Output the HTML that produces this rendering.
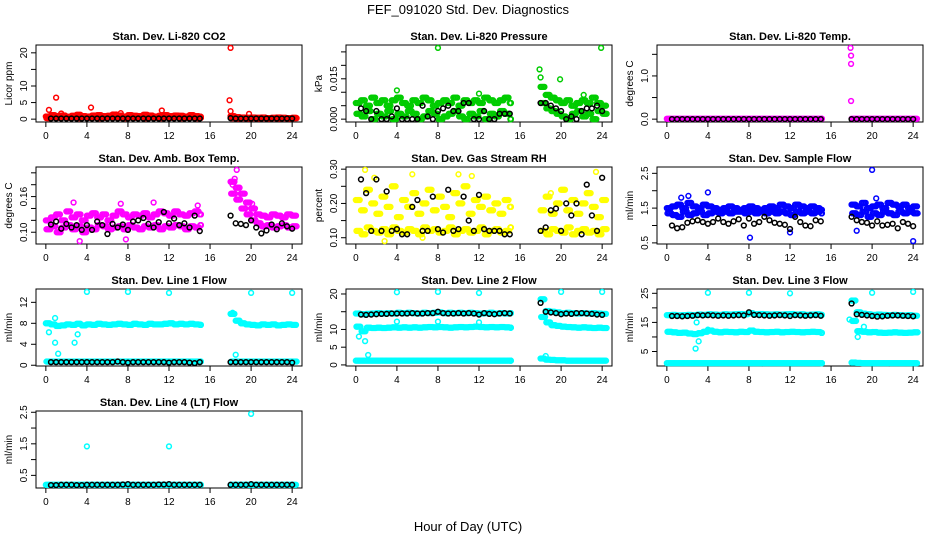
<!DOCTYPE html>
<html><head><meta charset="utf-8">
<style>
body{margin:0;background:#fff;}
svg{display:block;font-family:"Liberation Sans",Arial,sans-serif;}
</style></head>
<body>
<svg id="chart" width="936" height="540" viewBox="0 0 936 540">
<text x="468" y="14" text-anchor="middle" font-size="13">FEF_091020  Std. Dev. Diagnostics</text>
<text x="468" y="531" text-anchor="middle" font-size="13">Hour of Day (UTC)</text>
</svg>
<script>
const TIMES=[0,0.5,1,1.5,2,2.5,3,3.5,4,4.5,5,5.5,6,6.5,7,7.5,8,8.5,9,9.5,10,10.5,11,11.5,12,12.5,13,13.5,14,14.5,15,18,18.5,19,19.5,20,20.5,21,21.5,22,22.5,23,23.5,24];
const TIME_OFFSETS=[0,0.125,0.25,0.375];
const X_TICKS=[0,4,8,12,16,20,24];

// CO2
const CO2_A=[0.8,1.2,0.9,1.1,0.7,1.0,1.3,0.9,0.8,1.1,1.2,0.9,1.0,1.4,1.1,0.8,1.2,1.0,0.9,1.3,1.1,0.8,1.0,1.2,0.9,1.1,1.0,0.8,1.2,0.9,0.7,0.9,0.6,0.5,0.4,0.5,0.4,0.5,0.3,0.4,0.5,0.4,0.3,0.4];
const CO2_B=[0.3,0.5,0.4,0.6,0.4,0.5,0.3,0.6,0.4,0.5,0.3,0.4,0.6,0.5,0.4,0.3,0.5,0.4,0.6,0.3,0.5,0.4,0.3,0.5,0.4,0.6,0.3,0.4,0.5,0.3,0.4,0.3,0.2,0.3,0.2,0.3,0.2,0.3,0.2,0.3,0.2,0.3,0.2,0.3];
const CO2_K=[0.2,0.2,0.2,0.2,0.2,0.2,0.2,0.2,0.2,0.2,0.2,0.2,0.2,0.2,0.2,0.2,0.2,0.2,0.2,0.2,0.2,0.2,0.2,0.2,0.2,0.2,0.2,0.2,0.2,0.2,0.2,0.3,0.2,0.2,0.2,0.2,0.2,0.2,0.2,0.2,0.2,0.2,0.2,0.2];
const CO2_OUT=[[0.3,2.8],[1,6.5],[4.4,3.5],[11.3,2.6],[17.9,5.7],[18,2.4],[18,21.5],[19.8,1.6],[1.5,1.7],[7.3,1.8]];
// Pressure
const PR_A=[.006,.007,.005,.008,.006,.007,.005,.007,.008,.006,.005,.007,.006,.008,.007,.005,.006,.007,.006,.008,.005,.007,.006,.007,.006,.008,.007,.006,.007,.008,.006,.012,.009,.008,.007,.006,.007,.005,.006,.007,.006,.008,.006,.005];
const PR_B=[.002,.001,.003,.000,.002,.001,.003,.000,.002,.001,.003,.002,.000,.001,.003,.002,.000,.001,.002,.003,.001,.000,.002,.001,.003,.000,.002,.001,.003,.002,.000,.006,.004,.003,.002,.001,.000,.002,.003,.001,.002,.000,.003,.002];
const PR_K=[.000,.004,.003,.000,.003,.000,.000,.001,.004,.000,.000,.000,.000,.005,.001,.000,.003,.004,.005,.003,.003,.006,.006,.000,.000,.003,.000,.000,.002,.002,.002,.006,.006,.005,.004,.003,.000,.001,.000,.003,.004,.004,.005,.003];
const PR_OUT=[[8,.0265],[23.9,.0265],[17.9,.0185],[19.9,.0148],[4,.0107],[12,.0095],[18,.0155],[22.2,.009]];
// Li-820 temp
const LT_A=[0.01,0.01,0.01,0.01,0.01,0.01,0.01,0.01,0.01,0.01,0.01,0.01,0.01,0.01,0.01,0.01,0.01,0.01,0.01,0.01,0.01,0.01,0.01,0.01,0.01,0.01,0.01,0.01,0.01,0.01,0.01,0.01,0.01,0.01,0.01,0.01,0.01,0.01,0.01,0.01,0.01,0.01,0.01,0.01];
const LT_K=[0,0,0,0,0,0,0,0,0,0,0,0,0,0,0,0,0,0,0,0,0,0,0,0,0,0,0,0,0,0,0,0,0,0,0,0,0,0,0,0,0,0,0,0];
const LT_OUT=[[17.9,1.65],[17.95,1.47],[17.95,1.28],[17.95,0.42]];
// Amb box temp
const AB_A=[.12,.125,.13,.12,.135,.125,.13,.12,.128,.132,.125,.13,.12,.128,.135,.13,.125,.13,.128,.132,.125,.13,.135,.132,.128,.135,.13,.128,.132,.135,.13,.185,.175,.165,.15,.14,.13,.128,.125,.13,.128,.125,.13,.128];
const AB_B=[.105,.11,.1,.108,.112,.105,.11,.1,.108,.105,.112,.11,.105,.108,.11,.105,.112,.108,.105,.11,.108,.112,.105,.11,.108,.112,.11,.105,.11,.108,.112,.165,.155,.14,.13,.12,.115,.11,.112,.108,.11,.112,.108,.11];
const AB_K=[.108,.113,.118,.106,.114,.108,.112,.104,.112,.104,.118,.112,.097,.114,.108,.113,.104,.118,.12,.124,.114,.108,.117,.134,.115,.123,.112,.115,.108,.128,.102,.128,.115,.114,.112,.12,.108,.098,.103,.113,.105,.115,.11,.106];
const AB_OUT=[[18.6,.205],[18.4,.19],[18.2,.18],[2.7,.15],[7.3,.148],[10.5,.15],[14.8,.145],[3.3,.085],[7.8,.088],[20.1,.148]];
// RH
const RH_A=[.21,.18,.24,.2,.17,.22,.19,.25,.16,.21,.19,.23,.17,.2,.24,.18,.22,.19,.16,.23,.2,.25,.17,.21,.19,.22,.18,.2,.17,.21,.19,.18,.22,.17,.2,.24,.18,.21,.17,.2,.23,.19,.16,.21];
const RH_B=[.12,.11,.13,.12,.115,.125,.11,.13,.12,.115,.125,.12,.11,.13,.12,.125,.115,.12,.13,.11,.12,.125,.115,.12,.13,.11,.12,.125,.115,.12,.13,.12,.11,.125,.12,.115,.13,.11,.12,.125,.115,.12,.11,.125];
const RH_K=[.12,.27,.23,.12,.27,.12,.235,.12,.125,.11,.11,.19,.21,.12,.12,.22,.125,.115,.24,.12,.125,.22,.15,.12,.225,.125,.12,.12,.12,.11,.11,.12,.13,.18,.185,.12,.2,.165,.2,.11,.255,.165,.12,.275];
const RH_OUT=[[0.9,.298],[1.8,.275],[5.5,.285],[10,.285],[11.3,.28],[23.4,.292],[2.8,.09],[6.5,.1],[19,.23]];
// Sample flow
const SF_A=[1.5,1.55,1.6,1.5,1.65,1.55,1.5,1.6,1.55,1.5,1.45,1.5,1.55,1.5,1.45,1.5,1.55,1.5,1.45,1.5,1.55,1.5,1.6,1.55,1.5,1.6,1.55,1.5,1.55,1.5,1.45,1.6,1.55,1.65,1.5,1.55,1.6,1.5,1.65,1.6,1.55,1.6,1.5,1.55];
const SF_B=[1.35,1.3,1.25,1.4,1.3,1.35,1.4,1.3,1.35,1.4,1.35,1.4,1.35,1.4,1.4,1.35,1.4,1.35,1.4,1.35,1.4,1.35,1.4,1.35,1.3,1.4,1.35,1.4,1.35,1.4,1.35,1.35,1.3,1.4,1.25,1.35,1.3,1.4,1.35,1.3,1.4,1.35,1.4,1.35];
const SF_K=[1.05,1.0,0.92,0.95,1.08,1.12,1.15,1.1,1.05,1.1,1.2,1.1,1.05,1.12,1.18,1.0,1.2,1.05,1.1,1.25,1.15,1.08,1.05,1.02,0.9,1.25,1.1,1.0,0.98,1.15,1.12,1.25,1.15,1.1,1.08,1.0,1.12,1.0,1.02,1.05,0.92,1.1,1.05,0.98];
const SF_OUT=[[4,1.95],[2.1,1.85],[1.4,1.8],[20,2.6],[24,0.55],[8.1,0.65],[18.5,0.85],[20.4,1.78],[12,0.8]];
// Line 1
const L1_A=[8,7.8,7.5,7.6,7.8,7.7,7.9,7.6,7.8,7.7,7.9,7.8,7.7,7.8,7.9,7.8,7.7,7.9,7.8,7.7,7.9,7.8,7.8,7.9,8.0,7.8,7.9,7.8,7.9,7.8,7.7,9.8,8.5,8.0,7.8,7.7,7.6,7.8,7.7,7.8,7.6,7.7,7.8,7.7];
const L1_B=[0.7,0.7,0.7,0.7,0.7,0.7,0.7,0.7,0.7,0.7,0.7,0.7,0.7,0.7,0.7,0.7,0.7,0.7,0.7,0.7,0.7,0.7,0.7,0.7,0.7,0.7,0.7,0.7,0.7,0.7,0.7,0.7,0.7,0.7,0.7,0.7,0.7,0.7,0.7,0.7,0.7,0.7,0.7,0.7];
const L1_K=[0.5,0.6,0.6,0.6,0.6,0.6,0.6,0.6,0.6,0.6,0.6,0.6,0.6,0.6,0.7,0.6,0.5,0.6,0.6,0.6,0.6,0.6,0.6,0.6,0.5,0.6,0.6,0.6,0.5,0.4,0.6,0.6,0.6,0.6,0.6,0.6,0.6,0.6,0.6,0.6,0.6,0.6,0.6,0.5];
const L1_OUT=[[4,14],[8,14],[12,13.8],[20,13.8],[24,13.8],[0.9,9],[0.9,4.3],[1.2,2.2],[2.8,4.3],[3.1,5.9],[0.3,6.3],[18.5,2],[18.2,10]];
// Line 2
const L2_A=[14.5,14.3,14.4,14.5,14.6,14.5,14.6,14.5,14.7,14.6,14.7,14.6,14.5,14.7,14.6,14.7,14.8,14.6,14.7,14.6,14.7,14.6,14.7,14.6,14.5,14.6,14.7,14.5,14.6,14.5,14.6,18.5,15.2,15.0,14.8,14.6,14.7,14.6,14.5,14.6,14.5,14.6,14.5,14.4];
const L2_B=[10.8,9.5,10.5,10.4,10.5,10.4,10.5,10.6,10.5,10.6,10.5,10.6,10.5,10.6,10.7,10.6,10.7,10.6,10.5,10.6,10.7,10.6,10.7,10.8,10.7,10.6,10.7,10.6,10.7,10.6,10.5,13.5,12.0,11.2,11.0,10.8,10.7,10.6,10.5,10.6,10.5,10.4,10.5,10.4];
const L2_C=[1.2,1.2,1.2,1.2,1.2,1.2,1.2,1.2,1.2,1.2,1.2,1.2,1.2,1.2,1.2,1.2,1.2,1.2,1.2,1.2,1.2,1.2,1.2,1.2,1.2,1.2,1.2,1.2,1.2,1.2,1.2,1.8,1.5,1.4,1.3,1.3,1.2,1.2,1.2,1.2,1.2,1.2,1.2,1.2];
const L2_K=[14.3,14.2,14.1,14.2,14.3,14.4,14.4,14.5,14.5,14.5,14.5,14.6,14.5,14.5,14.6,14.6,15.0,14.6,14.5,14.5,14.6,14.5,14.6,14.5,14.2,14.6,14.4,14.3,14.5,14.6,14.5,17.5,15.0,14.8,14.6,14.3,14.5,14.4,14.6,14.6,14.5,14.4,14.2,14.1];
const L2_OUT=[[4,20.5],[8,20.6],[12,20.3],[20,20.6],[24,20.6],[0.3,8],[0.9,6.7],[1.2,2.8],[0.1,10.8],[4,12.2],[8,12.2],[12,12],[18.5,2.5]];
// Line 3
const L3_A=[17.5,17.6,17.4,17.5,17.6,17.5,17.7,17.6,17.8,17.7,17.6,17.8,17.7,17.8,17.9,17.8,18.2,17.8,17.9,17.8,17.7,17.8,17.7,17.8,17.9,17.7,17.8,17.6,17.7,17.8,17.6,22.5,18.5,18.0,17.8,17.6,17.7,17.6,17.5,17.6,17.5,17.4,17.5,17.3];
const L3_B=[11.8,11.6,11.4,11.5,11.2,11.0,11.3,11.8,12.2,11.8,11.6,11.8,11.7,11.6,11.8,11.7,12.2,11.8,11.7,11.6,11.7,11.8,11.6,11.7,11.8,11.7,11.6,11.7,11.8,11.7,11.4,15.5,12.0,11.8,11.6,11.7,11.5,11.4,11.5,11.6,11.5,11.4,11.5,11.6];
const L3_C=[1.0,1.0,1.0,1.0,1.0,1.0,1.0,1.0,1.0,1.0,1.0,1.0,1.0,1.0,1.0,1.0,1.0,1.0,1.0,1.0,1.0,1.0,1.0,1.0,1.0,1.0,1.0,1.0,1.0,1.0,1.0,1.2,1.1,1.0,1.0,1.0,1.0,1.0,1.0,1.0,1.0,1.0,1.0,1.0];
const L3_K=[17.3,17.2,17.2,17.1,17.2,17.3,17.5,17.4,17.5,17.4,17.3,17.4,17.3,17.4,17.5,17.4,18.5,17.6,17.5,17.4,17.3,17.4,17.5,17.4,17.2,17.5,17.4,17.3,17.4,17.5,17.3,21.5,17.8,17.6,17.4,17.2,17.0,17.1,17.3,17.4,17.4,17.3,17.2,17.1];
const L3_OUT=[[4,25.2],[8,25.2],[12,25],[20,25.2],[24,25.5],[2.8,6],[3.1,8.5],[2.9,15],[17.8,16],[18.6,10],[19.2,13.5],[4,12.5]];
// Line 4
const L4_A=[0.2,0.2,0.2,0.2,0.2,0.2,0.2,0.2,0.2,0.2,0.2,0.2,0.2,0.2,0.2,0.2,0.2,0.2,0.2,0.2,0.2,0.2,0.2,0.2,0.2,0.2,0.2,0.2,0.2,0.2,0.2,0.2,0.2,0.2,0.2,0.2,0.2,0.2,0.2,0.2,0.2,0.2,0.2,0.2];
const L4_K=[0.2,0.19,0.19,0.2,0.2,0.2,0.19,0.19,0.2,0.2,0.2,0.2,0.2,0.2,0.2,0.21,0.22,0.2,0.2,0.2,0.2,0.2,0.21,0.21,0.22,0.2,0.2,0.2,0.2,0.2,0.2,0.2,0.2,0.2,0.2,0.22,0.2,0.2,0.2,0.2,0.2,0.2,0.2,0.2];
const L4_OUT=[[4,1.42],[12,1.42],[20,2.45]];

const PANELS=[
 {name:'co2',title:'Stan. Dev. Li-820 CO2',yl:'Licor ppm',col:0,row:0,dom:[0,21.5],ticks:[0,5,10,15,20],labels:['0','5','10','','20'],color:'#ff0000',bands:[CO2_A,CO2_B],k:CO2_K,out:CO2_OUT},
 {name:'pressure',title:'Stan. Dev. Li-820 Pressure',yl:'kPa',col:1,row:0,dom:[0,0.0265],ticks:[0,0.005,0.01,0.015,0.02,0.025],labels:['0.000','','','0.015','',''],color:'#00cc00',bands:[PR_A,PR_B],k:PR_K,out:PR_OUT},
 {name:'licor-temp',title:'Stan. Dev. Li-820 Temp.',yl:'degrees C',col:2,row:0,dom:[0,1.65],ticks:[0,0.5,1,1.5],labels:['0.0','','1.0',''],color:'#ff00ff',bands:[LT_A],k:LT_K,out:LT_OUT},
 {name:'amb-box-temp',title:'Stan. Dev. Amb. Box Temp.',yl:'degrees C',col:0,row:1,dom:[0.085,0.205],ticks:[0.1,0.12,0.14,0.16,0.18,0.2],labels:['0.10','','','0.16','',''],color:'#ff00ff',bands:[AB_A,AB_B],k:AB_K,out:AB_OUT},
 {name:'gas-rh',title:'Stan. Dev. Gas Stream RH',yl:'percent',col:1,row:1,dom:[0.09,0.298],ticks:[0.1,0.15,0.2,0.25,0.3],labels:['0.10','','0.20','','0.30'],color:'#ffff00',bands:[RH_A,RH_B],k:RH_K,out:RH_OUT},
 {name:'sample-flow',title:'Stan. Dev. Sample Flow',yl:'ml/min',col:2,row:1,dom:[0.55,2.6],ticks:[0.5,1,1.5,2,2.5],labels:['0.5','','1.5','','2.5'],color:'#0000ff',bands:[SF_A,SF_B],k:SF_K,out:SF_OUT},
 {name:'line1-flow',title:'Stan. Dev. Line 1 Flow',yl:'ml/min',col:0,row:2,dom:[0.4,14],ticks:[0,4,8,12],labels:['0','4','8','12'],color:'#00ffff',bands:[L1_A,L1_B],k:L1_K,out:L1_OUT},
 {name:'line2-flow',title:'Stan. Dev. Line 2 Flow',yl:'ml/min',col:1,row:2,dom:[0.5,20.6],ticks:[0,5,10,15,20],labels:['0','5','10','','20'],color:'#00ffff',bands:[L2_A,L2_B,L2_C],k:L2_K,out:L2_OUT},
 {name:'line3-flow',title:'Stan. Dev. Line 3 Flow',yl:'ml/min',col:2,row:2,dom:[1,25.5],ticks:[5,10,15,20,25],labels:['5','','15','','25'],color:'#00ffff',bands:[L3_A,L3_B,L3_C],k:L3_K,out:L3_OUT},
 {name:'line4-flow',title:'Stan. Dev. Line 4 (LT) Flow',yl:'ml/min',col:0,row:3,dom:[0.19,2.45],ticks:[0.5,1,1.5,2,2.5],labels:['0.5','','1.5','','2.5'],color:'#00ffff',bands:[L4_A],k:L4_K,out:L4_OUT}
];

const NS='http://www.w3.org/2000/svg';
const svg=document.getElementById('chart');
const COL_LEFT=[36,346,657], BOX_W=266, BOX_H=77, ROW_TOP=45, ROW_STEP=122;
function mk(tag,attrs,parent){const e=document.createElementNS(NS,tag);for(const k in attrs)e.setAttribute(k,attrs[k]);parent.appendChild(e);return e;}

PANELS.forEach(p=>{
  const L=COL_LEFT[p.col], T=ROW_TOP+p.row*ROW_STEP, R=L+BOX_W, B=T+BOX_H;
  const g=mk('g',{},svg);
  
  
  const xs=v=>L+(v+0.96)/(25.92)*BOX_W;
  const span=p.dom[1]-p.dom[0];
  const y0=p.dom[0]-0.04*span, y1=p.dom[1]+0.04*span;
  const ys=v=>B-(v-y0)/(y1-y0)*BOX_H;
  const t=mk('text',{x:(L+R)/2,y:T-5,'text-anchor':'middle','font-size':'11','font-weight':'bold'},g);
  t.textContent=p.title;
  
  
  const box=mk('rect',{x:L,y:T,width:BOX_W,height:BOX_H,fill:'none',stroke:'#000','stroke-width':1},g);
  
  
  const xa=mk('g',{},g);
  
  
  mk('line',{x1:xs(0),x2:xs(24),y1:B,y2:B,stroke:'#000'},xa);
  X_TICKS.forEach(v=>{
    mk('line',{x1:xs(v),x2:xs(v),y1:B,y2:B+5,stroke:'#000'},xa);
    const tx=mk('text',{x:xs(v),y:B+17,'text-anchor':'middle','font-size':'10'},xa);
    tx.textContent=v;
    
    
  });
  const ya=mk('g',{},g);
  
  
  mk('line',{x1:L,x2:L,y1:ys(p.ticks[0]),y2:ys(p.ticks[p.ticks.length-1]),stroke:'#000'},ya);
  p.ticks.forEach((v,i)=>{
    mk('line',{x1:L-5,x2:L,y1:ys(v),y2:ys(v),stroke:'#000'},ya);
    if(p.labels[i]){
      const tx=mk('text',{x:0,y:0,'text-anchor':'middle','font-size':'10',transform:`translate(${L-9},${ys(v)}) rotate(-90)`},ya);
      tx.textContent=p.labels[i];
      
      
    }
  });
  const yt=mk('text',{x:0,y:0,'text-anchor':'middle','font-size':'10',transform:`translate(${L-24},${(T+B)/2}) rotate(-90)`},g);
  yt.textContent=p.yl;
  
  
  const pg=mk('g',{fill:'none','stroke-width':1.5},g);
  
  
  p.bands.forEach((arr,bi)=>{
    TIME_OFFSETS.forEach((off,oi)=>{
      arr.forEach((v,i)=>{
        const tt=Math.min(TIMES[i]+off+(bi%2)*0.06, TIMES[i]===15?15.1:99);
        const c=mk('circle',{cx:xs(tt),cy:ys(v),r:2.4,stroke:p.color},pg);
        
        
      });
    });
  });
  p.out.forEach(o=>{
    const c=mk('circle',{cx:xs(o[0]),cy:ys(o[1]),r:2.4,stroke:p.color},pg);
    
    
  });
  p.k.forEach((v,i)=>{
    if(TIMES[i]<0.4) return;
    const c=mk('circle',{cx:xs(TIMES[i]),cy:ys(v),r:2.4,stroke:'#000'},pg);
    
    
  });
});
</script>
</body></html>
